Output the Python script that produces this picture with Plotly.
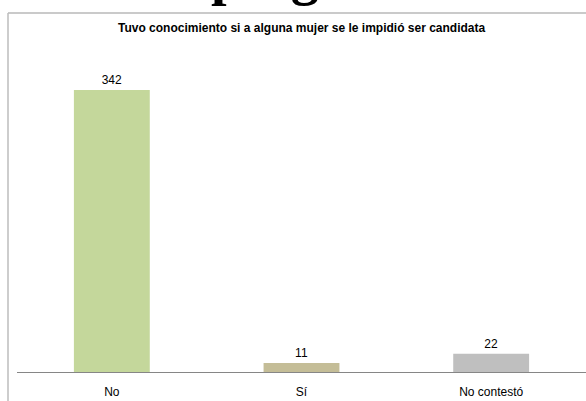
import plotly.graph_objects as go

categories = ["No", "Sí", "No contestó"]
values = [342, 11, 22]
bar_colors = ["#c4d79b", "#c4bd97", "#bfbfbf"]
title_text = "Tuvo conocimiento si a alguna mujer se le impidió ser candidata"
heading_text = "pregunta"

fig = go.Figure()
fig.add_trace(go.Bar(
    x=categories, y=values,
    marker=dict(color=bar_colors, line=dict(width=0)),
    width=0.4,
    text=[str(v) for v in values],
    textposition="outside",
    textfont=dict(family="Liberation Sans, Arial", size=12, color="#000000"),
    cliponaxis=False,
))

W, H = 586, 401
L, R, T, B = 17, 0, 40, 29
PW, PH = W - L - R, H - T - B


def px(x):
    return (x - L) / PW


def py(y):
    return (H - B - y) / PH


fig.update_layout(
    width=W, height=H,
    margin=dict(l=L, r=R, t=T, b=B),
    paper_bgcolor="white", plot_bgcolor="white",
    showlegend=False,
    font=dict(family="Liberation Sans, Arial", size=12, color="#000000"),
    xaxis=dict(
        showgrid=False, zeroline=False,
        showline=True, linecolor="#868686", linewidth=1,
        ticks="", tickfont=dict(size=12, color="#000000"),
        ticklabelstandoff=9,
        fixedrange=True,
    ),
    yaxis=dict(
        range=[0, 402.6], visible=False, showgrid=False, zeroline=False,
        fixedrange=True,
    ),
    shapes=[
        dict(type="line", xref="paper", yref="paper",
             x0=px(8), x1=px(590), y0=py(13), y1=py(13),
             line=dict(color="#b9b9b9", width=1.5)),
        dict(type="line", xref="paper", yref="paper",
             x0=px(8), x1=px(8), y0=py(13), y1=py(405),
             line=dict(color="#bdbdbd", width=1.5)),
    ],
    annotations=[
        dict(text="<b>" + title_text + "</b>", xref="paper", yref="paper",
             x=px(302), y=py(28), xanchor="center", yanchor="middle",
             showarrow=False,
             font=dict(family="Liberation Sans, Arial", size=12, color="#000000")),
        dict(text="<b>" + heading_text + "</b>", xref="paper", yref="paper",
             x=px(209), y=py(8.5), xanchor="left", yanchor="bottom",
             showarrow=False,
             font=dict(family="Liberation Serif, Times New Roman", size=56, color="#000000")),
    ],
)

fig.write_html("out.html", config={"displayModeBar": False},
               post_script="document.body.style.margin='0';document.body.style.overflow='hidden';")
